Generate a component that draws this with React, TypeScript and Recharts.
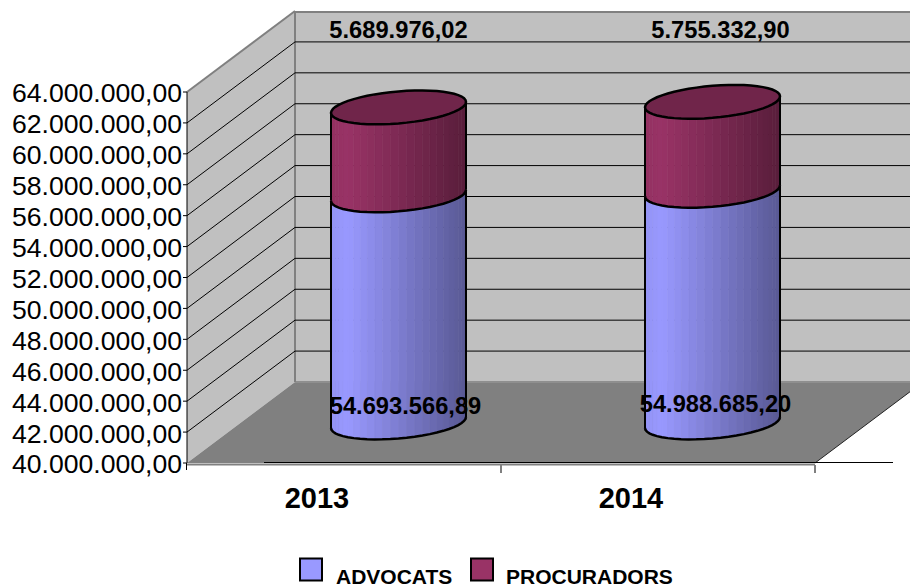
import { Bar, BarChart, CartesianGrid, LabelList, Legend, XAxis, YAxis } from 'recharts'

const years = ['2013', '2014']
const advocats = [54693566.89, 54988685.2]
const procuradors = [5689976.02, 5755332.9]
const yTicks = [
  40000000, 42000000, 44000000, 46000000, 48000000, 50000000, 52000000, 54000000, 56000000, 58000000, 60000000,
  62000000, 64000000
]

const data = years.map((year, i) => ({ year, advocats: advocats[i], procuradors: procuradors[i] }))

const FONT = '"Liberation Sans", Arial, sans-serif'
const DEPTH_X = 108
const DEPTH_Y = 81
const BLUE = [153, 153, 255]
const RED = [153, 51, 102]
const WALL = '#c0c0c0'
const EDGE = '#808080'

const formatMoney = (value: number) => {
  const [whole, dec] = value.toFixed(2).split('.')
  return `${whole.replace(/\B(?=(\d{3})+$)/g, '.')},${dec}`
}

const shade = (rgb: number[], f: number) => `rgb(${rgb.map((c) => Math.round(c * f)).join(',')})`

// one ring of the cylinder, a bit tilted like the old excel 3d charts
const ringPoint = (cx: number, cy: number, a: number, t: number): [number, number] => [
  cx + a * Math.cos(t),
  cy - 5.5 * Math.cos(t) + 16 * Math.sin(t)
]

const FACETS = 26

const Cylinder = ({ x, y, width, height, rgb, showTop }: any) => {
  const a = width / 2
  const cx = x + a + DEPTH_X / 2
  const top = y - DEPTH_Y / 2
  const bottom = y + height - DEPTH_Y / 2
  const strips = []
  const front: string[] = []
  for (let i = 0; i <= FACETS; i++) {
    const p = ringPoint(cx, bottom, a, (Math.PI * i) / FACETS)
    front.push(`${p[0]},${p[1]}`)
  }
  for (let i = 0; i < FACETS; i++) {
    const t0 = (Math.PI * i) / FACETS
    const t1 = (Math.PI * (i + 1)) / FACETS
    const b0 = ringPoint(cx, bottom, a, t0)
    const b1 = ringPoint(cx, bottom, a, t1)
    const t0p = ringPoint(cx, top, a, t0)
    const t1p = ringPoint(cx, top, a, t1)
    const pos = ((b0[0] + b1[0]) / 2 - (cx - a)) / width
    const f = pos < 0.12 ? 0.96 + pos / 3 : 1 - (pos - 0.12) * 0.48
    strips.push(
      <polygon
        key={i}
        points={`${b0[0]},${b0[1]} ${b1[0]},${b1[1]} ${t1p[0]},${t1p[1]} ${t0p[0]},${t0p[1]}`}
        fill={shade(rgb, f)}
        stroke={shade(rgb, f)}
        strokeWidth={0.6}
      />
    )
  }
  const ring: string[] = []
  for (let i = 0; i < FACETS * 2; i++) {
    const p = ringPoint(cx, top, a, (Math.PI * i) / FACETS)
    ring.push(`${p[0]},${p[1]}`)
  }
  const l0 = ringPoint(cx, bottom, a, Math.PI)
  const l1 = ringPoint(cx, top, a, Math.PI)
  const r0 = ringPoint(cx, bottom, a, 0)
  const r1 = ringPoint(cx, top, a, 0)
  return (
    <g>
      {strips}
      <line x1={l0[0]} y1={l0[1]} x2={l1[0]} y2={l1[1]} stroke='#000' strokeWidth={2} />
      <line x1={r0[0]} y1={r0[1]} x2={r1[0]} y2={r1[1]} stroke='#000' strokeWidth={2} />
      <polyline points={front.join(' ')} fill='none' stroke='#000' strokeWidth={2.5} />
      {showTop && <polygon points={ring.join(' ')} fill={shade(rgb, 0.73)} stroke='#000' strokeWidth={2.5} />}
    </g>
  )
}

// the 3d box sits in its own svg behind the chart
const Walls = () => (
  <svg width={910} height={586} style={{ position: 'absolute', left: 0, top: 0 }}>
    <polygon points='187,92 295,11 295,382 187,463' fill={WALL} />
    <line x1={187} y1={92} x2={295} y2={11} stroke={EDGE} strokeWidth={2} />
    <rect x={295} y={11} width={620} height={371} fill={WALL} />
    <line x1={295} y1={12} x2={910} y2={12} stroke={EDGE} strokeWidth={2} />
    <polygon points='187,463 295,382 923,382 815,463' fill={EDGE} />
    <line x1={295} y1={382} x2={910} y2={382} stroke='#8f8f8f' strokeWidth={2} />
    <line x1={295} y1={11} x2={295} y2={382} stroke={EDGE} strokeWidth={2} />
    <line x1={815} y1={463} x2={923} y2={382} stroke='#222' strokeWidth={1} />
    <line x1={264} y1={462.5} x2={893} y2={462.5} stroke='#000' strokeWidth={1} />
    <line x1={187} y1={464.5} x2={815} y2={464.5} stroke={EDGE} strokeWidth={2} />
    <line x1={186.5} y1={463} x2={186.5} y2={470} stroke='#000' strokeWidth={1} />
  </svg>
)

// each grid line folds back over the side wall and runs along the back wall
const gridLine = (props: any) => {
  const { x1, y1, index } = props
  if (y1 > 462 || y1 < 93) return <g key={index} />
  return (
    <g key={index}>
      <line x1={x1} y1={y1} x2={x1 + DEPTH_X} y2={y1 - DEPTH_Y} stroke='#000' strokeWidth={1} />
      <line x1={x1 + DEPTH_X} y1={y1 - DEPTH_Y} x2={910} y2={y1 - DEPTH_Y} stroke='#000' strokeWidth={1} />
    </g>
  )
}

const YearTick = ({ x, y, payload }: any) => (
  <g>
    <line x1={x + 157} y1={y - 6} x2={x + 157} y2={y + 2} stroke={EDGE} strokeWidth={2} />
    <text x={x - 27} y={y + 37} textAnchor='middle' fontFamily={FONT} fontSize={29} fontWeight={700} fill='#000'>
      {payload.value}
    </text>
  </g>
)

const labelShift = (shifts: number[], yAt: number[]) => (props: any) => {
  const { x, width, value, index } = props
  return (
    <text
      x={x + width / 2 + shifts[index]}
      y={yAt[index]}
      textAnchor='middle'
      fontFamily={FONT}
      fontSize={23.7}
      fontWeight={700}
      fill='#000'
    >
      {formatMoney(value)}
    </text>
  )
}

const legendItems = [
  { name: 'ADVOCATS', color: shade(BLUE, 1), box: 300, text: 336 },
  { name: 'PROCURADORS', color: shade(RED, 1), box: 471, text: 506 }
]

const ChartLegend = () => (
  <svg width={910} height={36} style={{ display: 'block' }}>
    {legendItems.map((item) => (
      <g key={item.name}>
        <rect x={item.box} y={8.5} width={22} height={22} fill={item.color} stroke='#000' strokeWidth={2} />
        <text x={item.text} y={34} fontFamily={FONT} fontSize={21} fontWeight={700} fill='#000'>
          {item.name}
        </text>
      </g>
    ))}
  </svg>
)

export default function App() {
  return (
    <div style={{ position: 'absolute', left: 0, top: 0, width: 910, height: 586, overflow: 'hidden' }}>
      {/* the cylinders are shifted back into the box, so they leave the plot area on purpose */}
      <style>{'.recharts-wrapper g[clip-path] { clip-path: none; }'}</style>
      <Walls />
      <BarChart
        width={910}
        height={586}
        data={data}
        margin={{ top: 92, right: 95, bottom: 47, left: 0 }}
        barSize={135}
        style={{ position: 'absolute', left: 0, top: 0 }}
      >
        <CartesianGrid horizontal={gridLine} vertical={false} />
        <XAxis dataKey='year' height={40} tick={<YearTick />} tickLine={false} axisLine={false} interval={0} />
        <YAxis
          domain={[40000000, 64000000]}
          allowDataOverflow
          ticks={yTicks}
          width={187}
          interval={0}
          tickSize={4}
          tickMargin={1}
          tickFormatter={formatMoney}
          tick={{ fontFamily: FONT, fontSize: 26.6, fill: '#000', dy: 1 }}
          stroke='#000'
        />
        <Legend
          content={<ChartLegend />}
          wrapperStyle={{ position: 'absolute', left: 0, top: 550, width: 910, height: 36 }}
        />
        <Bar
          dataKey='advocats'
          name='ADVOCATS'
          stackId='a'
          isAnimationActive={false}
          shape={(p: any) => <Cylinder {...p} rgb={BLUE} />}
        >
          <LabelList dataKey='advocats' content={labelShift([61, 57], [414, 412])} />
        </Bar>
        <Bar
          dataKey='procuradors'
          name='PROCURADORS'
          stackId='a'
          isAnimationActive={false}
          shape={(p: any) => <Cylinder {...p} rgb={RED} showTop />}
        >
          <LabelList dataKey='procuradors' content={labelShift([54, 62], [38, 38])} />
        </Bar>
      </BarChart>
    </div>
  )
}
